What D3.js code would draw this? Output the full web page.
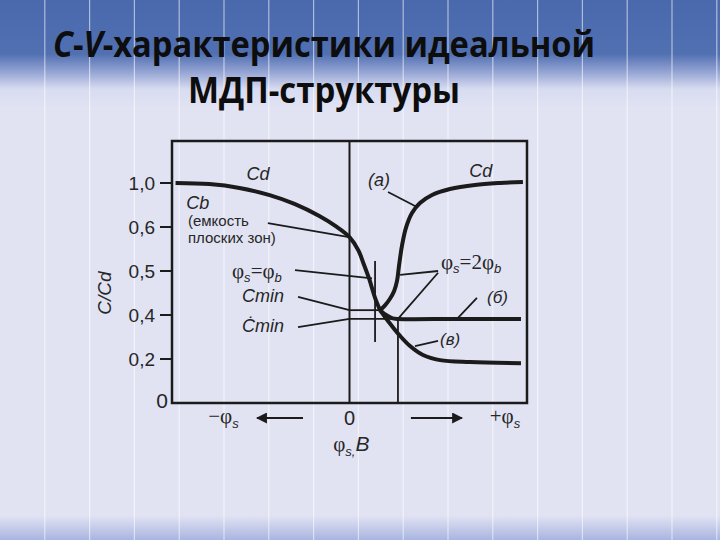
<!DOCTYPE html>
<html>
<head>
<meta charset="utf-8">
<script src="https://cdn.jsdelivr.net/npm/d3@7"></script>
<style>
  body { margin: 0; background: #e1e3f3; }
  svg { display: block; }
</style>
</head>
<body>
<div class="vis-container"></div>
<script>
/* global d3 */

document.addEventListener('DOMContentLoaded', () => {
  buildCVChart();
});

// y axis is schematic: tick values are spaced evenly
const Y_TICKS = [0, 0.2, 0.4, 0.5, 0.6, 1.0];
const Y_TICK_LABELS = ['0', '0,2', '0,4', '0,5', '0,6', '1,0'];

// phi in % of half range (-100 .. 100), C in C/Cd
// common branch: accumulation -> depletion
const FALL_PHI = [-98, -79, -62, -45, -31, -17, -8, 0, 5, 8, 11, 14.4, 17.2];
const FALL_C = [1.0, 0.99, 0.955, 0.89, 0.81, 0.70, 0.61, 0.577, 0.547, 0.516, 0.483, 0.439, 0.411];
// (а) low frequency
const LF_PHI = [17.2, 20, 22.8, 25.1, 26.8, 27.9, 29.6, 31.8, 35.2, 39.7, 46.5, 56.6, 70.7, 84.8, 97.7];
const LF_C = [0.411, 0.422, 0.437, 0.454, 0.478, 0.512, 0.558, 0.598, 0.727, 0.818, 0.891, 0.945, 0.982, 1.0, 1.009];
// (б) high frequency
const HF_PHI = [17.2, 20.6, 23.9, 27.3, 60, 96.6];
const HF_C = [0.411, 0.4, 0.386, 0.382, 0.382, 0.382];
// (в) deep depletion
const DD_PHI = [17.2, 20, 23.9, 28.5, 34.1, 41.4, 51, 67.9, 96.6];
const DD_C = [0.411, 0.391, 0.35, 0.305, 0.259, 0.218, 0.195, 0.186, 0.181];

// thin marker lines [phi1, c1, phi2, c2]
const MARKERS = [
  [14.4, 0.523, 14.4, 0.277],
  [27.3, 0.391, 27.3, 0],
  [0, 0.411, 17.2, 0.411],
  [0, 0.382, 27.3, 0.382]
];
// leader lines from labels to the curves
const LEADERS = [
  [-46, 0.636, -0.3, 0.577],
  [-30.7, 0.502, 12.7, 0.483],
  [-29, 0.441, 0, 0.411],
  [-29, 0.345, 0, 0.382],
  [49.9, 0.5, 28.5, 0.491],
  [49.9, 0.496, 27.3, 0.382],
  [71.8, 0.439, 60.6, 0.382],
  [49.9, 0.282, 36.9, 0.259],
  [21.7, 0.918, 38, 0.782]
];
// labels: parts [text, kind], phi, c, anchor, size
const LABELS = [
  [[['Cd', 'i']], -51.5, 1.027, 'middle', 18],
  [[['Cd', 'i']], 74, 1.055, 'middle', 18],
  [[['(a)', 'i']], 16.6, 0.973, 'middle', 18],
  [[['Cb', 'i']], -92, 0.764, 'start', 18],
  [[['(емкость', 'r']], -91, 0.609, 'start', 15],
  [[['плоских зон)', 'r']], -91, 0.563, 'start', 15],
  [[['φ', 'g'], ['s', 'sub'], ['=', 'g'], ['φ', 'g'], ['b', 'sub']], -66.2, 0.485, 'start', 21],
  [[['Cmin', 'i']], -60.6, 0.43, 'start', 18],
  [[['Ċmin', 'i']], -60.6, 0.323, 'start', 18],
  [[['φ', 'g'], ['s', 'sub'], ['=2', 'g'], ['φ', 'g'], ['b', 'sub']], 51.5, 0.505, 'start', 21],
  [[['(б)', 'i']], 77.5, 0.428, 'start', 17],
  [[['(в)', 'i']], 51, 0.264, 'start', 17]
];
// notes under the axis: parts, phi, offset below axis
const AXIS_NOTES = [
  [[['−φ', 'g'], ['s', 'sub']], -71, 20],
  [[['0', 'r']], 0, 22],
  [[['+φ', 'g'], ['s', 'sub']], 87.6, 20],
  [[['φ', 'g'], ['s,', 'sub'], ['B', 'i']], 1, 48]
];
const ARROWS = [[-26.2, -52.1], [34.6, 63.4]];

const SANS = 'Liberation Sans, Arial, sans-serif';
const SERIF = 'Liberation Serif, Times New Roman, serif';
const INK = '#1b1b1b';

function buildCVChart() {
  const width = 720;
  const height = 540;
  const margin = {left: 172, right: 193, top: 141, bottom: 137};
  const plotBottom = height - margin.bottom;
  const tickStep = 44;

  const svg = d3.select('.vis-container').append('svg')
    .attr('width', width)
    .attr('height', height);

  // slide background
  const defs = svg.append('defs');
  const grad = defs.append('linearGradient')
    .attr('id', 'bg')
    .attr('x1', 0).attr('y1', 0).attr('x2', 0).attr('y2', 1);
  [[0, '#4a69ad'], [0.1, '#5170b2'], [0.135, '#98a7d5'], [0.165, '#d8dcf0'],
    [0.2, '#e1e3f3'], [0.955, '#e1e3f3'], [1, '#a9b4e1']].forEach(([o, c]) => {
    grad.append('stop').attr('offset', o).attr('stop-color', c);
  });
  svg.append('rect')
    .attr('width', width)
    .attr('height', height)
    .attr('fill', 'url(#bg)');
  svg.selectAll('.stripe')
    .data(d3.range(1, 17))
    .enter().append('line')
      .attr('class', 'stripe')
      .attr('x1', k => k * 44.8)
      .attr('x2', k => k * 44.8)
      .attr('y1', 0)
      .attr('y2', height)
      .attr('stroke', '#fff')
      .attr('stroke-opacity', 0.55)
      .attr('stroke-width', 1.2);

  // title
  const t1 = svg.append('text')
    .attr('x', 324).attr('y', 57)
    .attr('text-anchor', 'middle')
    .attr('font-family', 'Open Sans, sans-serif')
    .attr('font-weight', 700)
    .attr('font-size', 35)
    .attr('fill', '#0d0d0d')
    .attr('textLength', 542)
    .attr('lengthAdjust', 'spacingAndGlyphs');
  t1.append('tspan').attr('font-style', 'italic').text('C');
  t1.append('tspan').text('-');
  t1.append('tspan').attr('font-style', 'italic').text('V');
  t1.append('tspan').text('-характеристики идеальной');
  svg.append('text')
    .attr('x', 324).attr('y', 103)
    .attr('text-anchor', 'middle')
    .attr('font-family', 'Open Sans, sans-serif')
    .attr('font-weight', 700)
    .attr('font-size', 35)
    .attr('fill', '#0d0d0d')
    .attr('textLength', 272)
    .attr('lengthAdjust', 'spacingAndGlyphs')
    .text('МДП-структуры');

  const x = d3.scaleLinear().domain([-100, 100]).range([margin.left, width - margin.right]);
  const y = d3.scaleLinear()
    .domain(Y_TICKS)
    .range(Y_TICKS.map((d, i) => plotBottom - i * tickStep));

  const g = svg.append('g').attr('font-family', SANS).attr('fill', '#262626');

  // frame
  g.append('rect')
    .attr('x', margin.left)
    .attr('y', margin.top)
    .attr('width', width - margin.left - margin.right)
    .attr('height', plotBottom - margin.top)
    .attr('fill', 'none')
    .attr('stroke', INK)
    .attr('stroke-width', 2.5);

  // y ticks
  const ticks = Y_TICKS.map((v, i) => ({v, label: Y_TICK_LABELS[i]}));
  g.selectAll('.tick')
    .data(ticks.filter(d => d.v > 0))
    .enter().append('line')
      .attr('class', 'tick')
      .attr('x1', margin.left - 12)
      .attr('x2', margin.left)
      .attr('y1', d => y(d.v))
      .attr('y2', d => y(d.v))
      .attr('stroke', INK)
      .attr('stroke-width', 2);
  g.selectAll('.tick-label')
    .data(ticks)
    .enter().append('text')
      .attr('class', 'tick-label')
      .attr('x', d => d.v > 0 ? margin.left - 17 : margin.left - 4)
      .attr('y', d => d.v > 0 ? y(d.v) + 7 : y(d.v) + 5)
      .attr('text-anchor', 'end')
      .attr('font-size', d => d.v > 0 ? 19 : 21)
      .text(d => d.label);

  g.append('text')
    .attr('transform', `translate(111, ${y(0.45)}) rotate(-90)`)
    .attr('text-anchor', 'middle')
    .attr('font-size', 19)
    .attr('font-style', 'italic')
    .text('C/Cd');

  // x = 0 line
  g.append('line')
    .attr('x1', x(0)).attr('x2', x(0))
    .attr('y1', margin.top).attr('y2', plotBottom)
    .attr('stroke', INK)
    .attr('stroke-width', 2);

  g.selectAll('.marker')
    .data(MARKERS.concat(LEADERS))
    .enter().append('line')
      .attr('class', 'marker')
      .attr('x1', d => x(d[0]))
      .attr('y1', d => y(d[1]))
      .attr('x2', d => x(d[2]))
      .attr('y2', d => y(d[3]))
      .attr('stroke', INK)
      .attr('stroke-width', 1.8);

  // curves
  const line = d3.line()
    .x(d => x(d[0]))
    .y(d => y(d[1]))
    .curve(d3.curveCatmullRom.alpha(0.5));
  const pairs = (p, c) => p.map((d, i) => [d, c[i]]);
  const curves = [
    pairs(FALL_PHI, FALL_C),
    pairs(LF_PHI, LF_C),
    pairs(HF_PHI, HF_C),
    pairs(DD_PHI, DD_C)
  ];
  g.selectAll('.curve')
    .data(curves)
    .enter().append('path')
      .attr('class', 'curve')
      .attr('d', line)
      .attr('fill', 'none')
      .attr('stroke', INK)
      .attr('stroke-width', 4)
      .attr('stroke-linejoin', 'round');

  // labels
  function richText(parts, px, py, anchor, size) {
    const t = g.append('text')
      .attr('x', px).attr('y', py)
      .attr('text-anchor', anchor)
      .attr('font-size', size);
    let shift = 0;
    parts.forEach(([s, kind]) => {
      const ts = t.append('tspan').text(s);
      let target = 0;
      if (kind === 'g') ts.attr('font-family', SERIF);
      if (kind === 'i') ts.attr('font-style', 'italic');
      if (kind === 'sub') {
        ts.attr('font-style', 'italic').attr('font-size', size * 0.62);
        target = size * 0.22;
      }
      ts.attr('dy', target - shift);
      shift = target;
    });
  }
  LABELS.forEach(([parts, phi, c, anchor, size]) => {
    richText(parts, x(phi), y(c), anchor, size);
  });
  AXIS_NOTES.forEach(([parts, phi, off]) => {
    richText(parts, x(phi), plotBottom + off, 'middle', parts[0][1] === 'r' ? 20 : 21);
  });

  // direction arrows
  defs.append('marker')
    .attr('id', 'head')
    .attr('viewBox', '0 0 10 10')
    .attr('refX', 9).attr('refY', 5)
    .attr('markerWidth', 5).attr('markerHeight', 5)
    .attr('markerUnits', 'strokeWidth')
    .attr('orient', 'auto')
    .append('path')
      .attr('d', 'M0,0 L10,5 L0,10 Z')
      .attr('fill', INK);
  g.selectAll('.arrow')
    .data(ARROWS)
    .enter().append('line')
      .attr('class', 'arrow')
      .attr('x1', d => x(d[0]))
      .attr('x2', d => x(d[1]))
      .attr('y1', plotBottom + 15)
      .attr('y2', plotBottom + 15)
      .attr('stroke', INK)
      .attr('stroke-width', 2.2)
      .attr('marker-end', 'url(#head)');
}
</script>
</body>
</html>
